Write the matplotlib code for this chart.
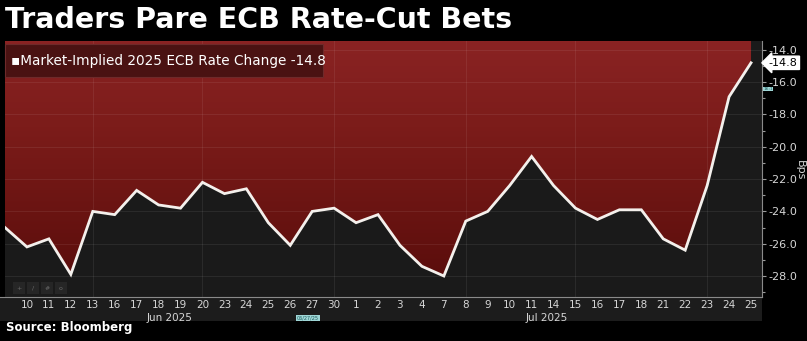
import matplotlib.pyplot as plt
import numpy as np
from matplotlib.colors import LinearSegmentedColormap
from matplotlib.patches import Rectangle, FancyBboxPatch

# market-implied 2025 ECB rate change, bps
dates = ["9", "10", "11", "12", "13", "16", "17", "18", "19", "20", "23", "24", "25", "26", "27", "30",
         "1", "2", "3", "4", "7", "8", "9", "10", "11", "14", "15", "16", "17", "18", "21", "22", "23", "24", "25"]
values = [-25.0, -26.2, -25.7, -27.9, -24.0, -24.2, -22.7, -23.6, -23.8, -22.2, -22.9, -22.6, -24.7, -26.1,
          -24.0, -23.8, -24.7, -24.2, -26.1, -27.4, -28.0, -24.6, -24.0, -22.4, -20.6, -22.4, -23.8, -24.5,
          -23.9, -23.9, -25.7, -26.4, -22.4, -16.9, -14.8]
yticks = [-14.0, -16.0, -18.0, -20.0, -22.0, -24.0, -26.0, -28.0]
vgrid_idx = [4, 9, 15, 21, 26, 32]
months = [("Jun 2025", 7.5), ("Jul 2025", 24.7)]

W, H = 807, 341
fig = plt.figure(figsize=(W / 100, H / 100), dpi=100)
fig.patch.set_facecolor("black")

def fx(px):
    return px / W

def fy(py):
    return 1 - py / H

ax = fig.add_axes([fx(5), fy(297), fx(762) - fx(5), fy(41) - fy(297)])
ax.set_facecolor("#1a1a1a")
x = np.arange(len(values))
ax.set_xlim(0, 34.5)
ax.set_ylim(-29.3, -13.45)

# red gradient above the line
grad_cmap = LinearSegmentedColormap.from_list("rd", ["#560b0a", "#6a1412", "#7c1c1a", "#8a2323"])
grad = np.linspace(0, 1, 256).reshape(-1, 1)
img = ax.imshow(grad, cmap=grad_cmap, origin="lower", aspect="auto",
                extent=[0, 34.5, -29.3, -13.45], zorder=1)
poly_x = np.concatenate([x, [x[-1], 0]])
poly_y = np.concatenate([values, [-13.45, -13.45]])
clip = plt.Polygon(np.column_stack([poly_x, poly_y]), closed=True, transform=ax.transData,
                   facecolor="none", edgecolor="none")
ax.add_patch(clip)
img.set_clip_path(clip)

# grid
for yv in yticks:
    ax.axhline(yv, color="white", alpha=0.07, lw=0.8, zorder=2)
for i in vgrid_idx:
    ax.axvline(i, color="white", alpha=0.07, lw=0.8, zorder=2)

ax.plot(x, values, color="#f4f0ec", lw=2.0, zorder=4, solid_joinstyle="miter")

# axes styling
for s in ["top", "left", "bottom"]:
    ax.spines[s].set_visible(False)
ax.spines["right"].set_color("#8a8a8a")
ax.spines["right"].set_linewidth(0.8)
ax.yaxis.tick_right()
ax.set_yticks(yticks)
ax.set_yticklabels([f"{v:.1f}" for v in yticks])
ax.set_yticks(np.arange(-29, -13.5, 1.0), minor=True)
ax.tick_params(axis="y", which="both", colors="#9a9a9a", labelcolor="#d6d6d6", labelsize=8,
               length=3, width=0.8, pad=2)
ax.tick_params(axis="y", which="minor", length=2)
ax.set_xticks([])

# bottom date band
fig.add_artist(Rectangle((0, fy(321)), fx(762), fy(297) - fy(321), transform=fig.transFigure,
                         facecolor="#1c1c1c", edgecolor="none", zorder=0))
fig.add_artist(plt.Line2D([0, fx(762)], [fy(297), fy(297)], transform=fig.transFigure,
                          color="#8a8a8a", lw=0.8))
for i, d in enumerate(dates[1:], start=1):
    ax.annotate(d, (i, 0), xycoords=("data", "axes fraction"), xytext=(0, -2),
                textcoords="offset points", ha="center", va="top", fontsize=7.5, color="#d6d6d6")
for name, xpos in months:
    ax.annotate(name, (xpos, 0), xycoords=("data", "axes fraction"), xytext=(0, -11.5),
                textcoords="offset points", ha="center", va="top", fontsize=7.5, color="#d6d6d6")

# toolbar icons
for k, sym in enumerate(["+", "/", "#", "o"]):
    cx = 19 + k * 14
    fig.add_artist(Rectangle((fx(cx - 6), fy(294)), fx(12), fy(282) - fy(294), transform=fig.transFigure,
                             facecolor="#262626", edgecolor="none", zorder=5))
    fig.text(fx(cx), fy(288), sym, ha="center", va="center", fontsize=4.5, color="#6a6a6a", zorder=6)

# small date flags
fig.text(fx(308), fy(318), "06/27/25", ha="center", va="center", fontsize=3.5, color="#1a5a5a",
         bbox=dict(boxstyle="square,pad=0.15", fc="#9fd6d6", ec="none"))
fig.text(fx(768), fy(89), "16:1", ha="center", va="center", fontsize=3.2, color="#1a5a5a",
         bbox=dict(boxstyle="square,pad=0.1", fc="#9fd6d6", ec="none"))

# last value tag
ax.annotate(f"{values[-1]:.1f}", (1, values[-1]), xycoords=("axes fraction", "data"),
            xytext=(5, 0), textcoords="offset points", ha="left", va="center", fontsize=8,
            color="black", bbox=dict(boxstyle="larrow,pad=0.15", fc="white", ec="white"))

# legend box
fig.add_artist(FancyBboxPatch((fx(5), fy(77)), fx(318), fy(44) - fy(77), boxstyle="square,pad=0",
                              transform=fig.transFigure, facecolor="#4a1212", edgecolor="#6e2a2a",
                              lw=0.8, zorder=5))
fig.text(fx(11), fy(61), f"\u25aaMarket-Implied 2025 ECB Rate Change {values[-1]:.1f}",
         ha="left", va="center", fontsize=9.8, color="white", zorder=6)

# title, units, source
fig.text(fx(5), fy(20), "Traders Pare ECB Rate-Cut Bets", ha="left", va="center",
         fontsize=20.5, fontweight="bold", color="white")
fig.text(fx(800), fy(170), "Bps", ha="center", va="center", rotation=270, fontsize=8, color="#d6d6d6")
fig.text(fx(6), fy(328), "Source: Bloomberg", ha="left", va="center", fontsize=8.5,
         fontweight="bold", color="white")

fig.savefig("out.png", dpi=100, facecolor="black")
